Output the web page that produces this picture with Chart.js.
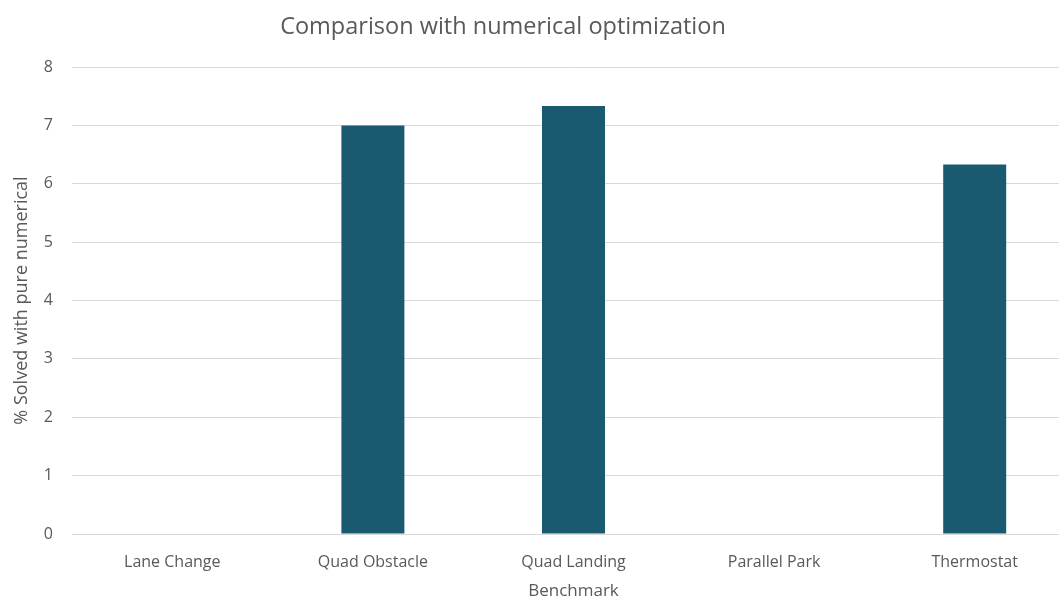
<!DOCTYPE html>
<html lang="en">
<head>
  <meta charset="UTF-8">
  <title>Comparison with numerical optimization</title>
  <script src="https://cdn.jsdelivr.net/npm/chart.js"></script>
  <style>
    body {
      margin: 0;
      background: #fff;
    }
    #frame {
      width: 1059px;
      height: 604px;
      overflow: hidden;
    }
    #wrap {
      width: 1075px;
      height: 604px;
    }
  </style>
</head>
<body>

  <div id="frame">
    <div id="wrap"><canvas id="chart"></canvas></div>
  </div>

  <script>
    const benchmarks = ["Lane Change", "Quad Obstacle", "Quad Landing", "Parallel Park", "Thermostat"];
    const solved = [0, 7, 7.33, 0, 6.33]; // % solved with pure numerical
    const yTicks = [0, 1, 2, 3, 4, 5, 6, 7, 8];

    const textColor = "#595959";
    const gridColor = "#d9d9d9";
    const font = "'Open Sans', sans-serif";

    // chart title, drawn by hand so it can sit left of the plot centre
    const titlePlugin = {
      id: "titleText",
      afterDraw(chart) {
        const ctx = chart.ctx;
        ctx.save();
        ctx.font = "23.5px " + font;
        ctx.fillStyle = textColor;
        ctx.textAlign = "center";
        ctx.textBaseline = "middle";
        ctx.fillText("Comparison with numerical optimization", 503, 27);
        ctx.restore();
      }
    };

    new Chart(document.getElementById("chart"), {
      type: "bar",
      data: {
        labels: benchmarks,
        datasets: [{
          data: solved,
          backgroundColor: "#1a5a70",
          borderWidth: 0,
          categoryPercentage: 1,
          barPercentage: 0.314
        }]
      },
      options: {
        responsive: true,
        maintainAspectRatio: false,
        animation: false,
        layout: { padding: { top: 67, right: 0, bottom: 0, left: 0 } },
        plugins: {
          legend: { display: false },
          tooltip: { enabled: false }
        },
        scales: {
          x: {
            grid: { display: false },
            border: { display: false },
            ticks: { color: textColor, font: { family: font, size: 16 }, padding: 11 },
            title: {
              display: true,
              text: "Benchmark",
              color: textColor,
              font: { family: font, size: 17 },
              padding: { top: 0, bottom: 3 }
            },
            afterFit(s) { s.height = 70; }
          },
          y: {
            min: 0,
            max: 8,
            afterBuildTicks(s) { s.ticks = yTicks.map(v => ({ value: v })); },
            grid: { color: gridColor, drawTicks: false, lineWidth: 1 },
            border: { display: false },
            ticks: { color: textColor, font: { family: font, size: 16 }, padding: 19 },
            title: {
              display: true,
              text: "% Solved with pure numerical",
              color: textColor,
              font: { family: font, size: 18 },
              padding: { top: 11, bottom: 0 }
            },
            afterFit(s) { s.width = 72; }
          }
        }
      },
      plugins: [titlePlugin]
    });
  </script>

</body>
</html>
